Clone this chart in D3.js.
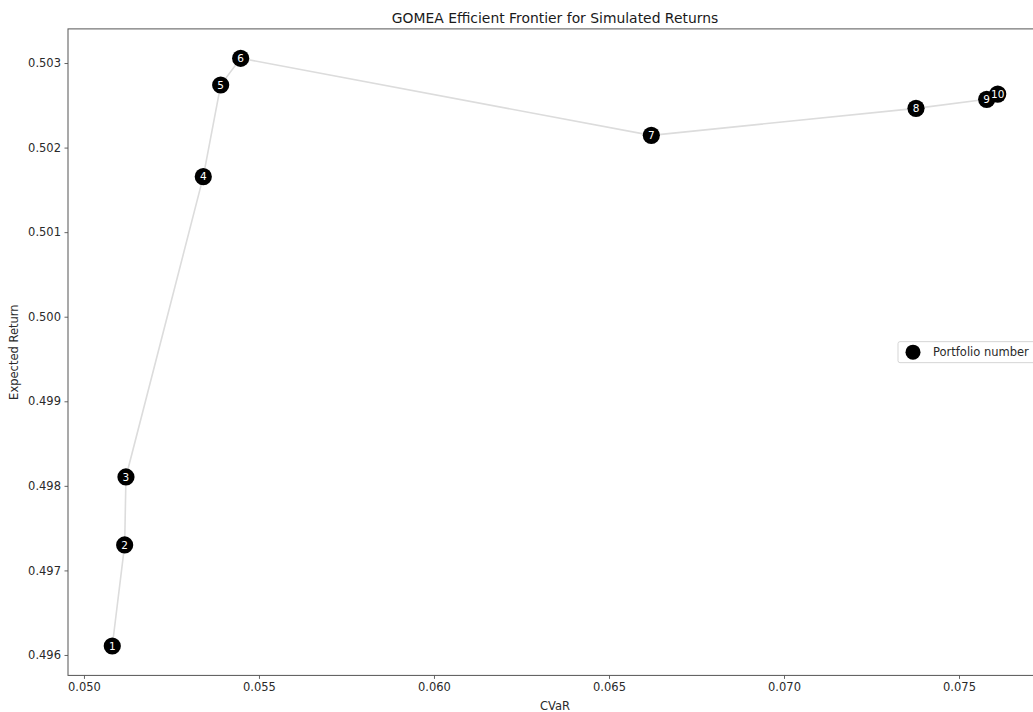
<!DOCTYPE html>
<html>
<head>
<meta charset="utf-8">
<script src="https://cdn.jsdelivr.net/npm/d3@7"></script>
<style>
  html, body { margin: 0; padding: 0; background: #fff; overflow: hidden; }
  svg { display: block; font-family: "DejaVu Sans", sans-serif; }
</style>
</head>
<body>
<svg id="chart" width="1033" height="712"></svg>
<script>
// Portfolios on the GOMEA efficient frontier
const portfolios = [1, 2, 3, 4, 5, 6, 7, 8, 9, 10];
const cvar = [0.050809, 0.051163, 0.051200, 0.053409, 0.053906, 0.054477, 0.066209, 0.073771, 0.075791, 0.076106];
const expectedReturn = [0.496106, 0.497301, 0.498105, 0.501656, 0.502740, 0.503056, 0.502145, 0.502464, 0.502571, 0.502633];
const xTicks = [0.050, 0.055, 0.060, 0.065, 0.070, 0.075];
const yTicks = [0.496, 0.497, 0.498, 0.499, 0.500, 0.501, 0.502, 0.503];

const title = "GOMEA Efficient Frontier for Simulated Returns";
const xLabel = "CVaR";
const yLabel = "Expected Return";
const legendLabel = "Portfolio number";

const data = portfolios.map((p, i) => ({ id: p, x: cvar[i], y: expectedReturn[i] }));

const svg = d3.select("#chart");
const plot = { left: 68, right: 1042, top: 28.9, bottom: 675.4 };

// 5% padding around the data extent
function padded(ext) {
  const m = (ext[1] - ext[0]) * 0.05;
  return [ext[0] - m, ext[1] + m];
}

const x = d3.scaleLinear().domain(padded(d3.extent(cvar))).range([plot.left, plot.right]);
const y = d3.scaleLinear().domain(padded(d3.extent(expectedReturn))).range([plot.bottom, plot.top]);

const fmt = d3.format(".3f");
const axisColor = "#555";
const textColor = "#2a2a2a";
const fontSize = 11.5;

// frontier line
svg.append("path")
  .datum(data)
  .attr("fill", "none")
  .attr("stroke", "#dcdcdc")
  .attr("stroke-width", 1.6)
  .attr("d", d3.line().x(d => x(d.x)).y(d => y(d.y)));

// markers
svg.append("g").selectAll("circle")
  .data(data)
  .join("circle")
  .attr("cx", d => x(d.x))
  .attr("cy", d => y(d.y))
  .attr("r", 8.6)
  .attr("fill", "#000");

// portfolio numbers
svg.append("g").selectAll("text")
  .data(data)
  .join("text")
  .attr("x", d => x(d.x))
  .attr("y", d => y(d.y))
  .attr("dy", "0.36em")
  .attr("text-anchor", "middle")
  .attr("fill", "#ffffff")
  .attr("font-size", 10.5)
  .text(d => d.id);

// axes
const xAxis = svg.append("g")
  .attr("transform", `translate(0,${plot.bottom})`)
  .call(d3.axisBottom(x).tickValues(xTicks).tickFormat(fmt).tickSize(3.5).tickPadding(3.5));
const yAxis = svg.append("g")
  .attr("transform", `translate(${plot.left},0)`)
  .call(d3.axisLeft(y).tickValues(yTicks).tickFormat(fmt).tickSize(3.5).tickPadding(3.5));

[xAxis, yAxis].forEach(g => {
  g.select(".domain").remove();
  g.selectAll(".tick line").attr("stroke", axisColor).attr("stroke-width", 0.9);
  g.selectAll(".tick text").attr("fill", textColor).attr("font-size", fontSize)
    .attr("font-family", "DejaVu Sans, sans-serif");
});

// frame
svg.append("rect")
  .attr("x", plot.left)
  .attr("y", plot.top)
  .attr("width", plot.right - plot.left)
  .attr("height", plot.bottom - plot.top)
  .attr("fill", "none")
  .attr("stroke", axisColor)
  .attr("stroke-width", 1);

// title and axis labels
const cx = (plot.left + plot.right) / 2;
svg.append("text")
  .attr("x", cx).attr("y", 22.5)
  .attr("text-anchor", "middle")
  .attr("fill", "#1a1a1a")
  .attr("font-size", 13.9)
  .text(title);

svg.append("text")
  .attr("x", cx).attr("y", 709.5)
  .attr("text-anchor", "middle")
  .attr("fill", textColor)
  .attr("font-size", fontSize)
  .text(xLabel);

svg.append("text")
  .attr("transform", `translate(18,${(plot.top + plot.bottom) / 2}) rotate(-90)`)
  .attr("text-anchor", "middle")
  .attr("fill", textColor)
  .attr("font-size", fontSize)
  .text(yLabel);

// legend, centred on the right edge
const legend = svg.append("g").attr("transform", `translate(898,${(plot.top + plot.bottom) / 2})`);
legend.append("rect")
  .attr("x", 0).attr("y", -10.5)
  .attr("width", 139).attr("height", 21)
  .attr("rx", 2)
  .attr("fill", "#fff")
  .attr("fill-opacity", 0.8)
  .attr("stroke", "#d0d0d0")
  .attr("stroke-width", 0.9);
legend.append("circle")
  .attr("cx", 15).attr("cy", 0)
  .attr("r", 7.5)
  .attr("fill", "#000");
legend.append("text")
  .attr("x", 35).attr("y", 0)
  .attr("dy", "0.35em")
  .attr("fill", textColor)
  .attr("font-size", fontSize)
  .text(legendLabel);
</script>
</body>
</html>
